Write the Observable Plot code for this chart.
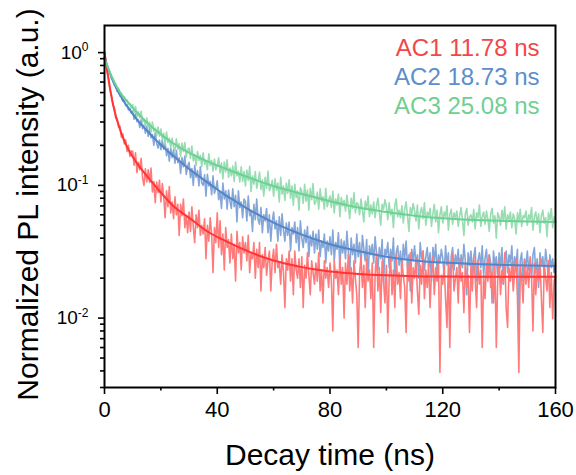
<!DOCTYPE html>
<html><head><meta charset="utf-8">
<script src="https://cdn.jsdelivr.net/npm/d3@7"></script>
<script src="https://cdn.jsdelivr.net/npm/@observablehq/plot@0.6"></script>
<style>body{margin:0;background:#fff;} svg{display:block;}</style>
</head><body><div id="chart"></div>
<script>
// TCSPC channel spacing (ns)
const timeStep = 0.5;
const seriesNames = ["AC1", "AC2", "AC3"];
const lifetimes = ["11.78 ns", "18.73 ns", "25.08 ns"];
const xLabel = "Decay time (ns)";
const yLabel = "Normalized PL intensity (a.u.)";

// measured (noisy) decays, one value per channel from 0 to 160 ns
const ac1Decay = [
1.02,.86,.71,.63,.52,.47,.40,.385,.32,.315,
.275,.28,.23,.245,.205,.22,.18,.20,.165,.182,
.180,.142,.176,.125,.149,.131,.160,.114,.100,.133,
.106,.131,.105,.135,.089,.107,.074,.106,.088,.109,
.075,.103,.083,.057,.091,.069,.098,.062,.075,.056,
.082,.060,.072,.042,.072,.059,.079,.048,.059,.044,
.063,.045,.069,.049,.037,.060,.048,.065,.042,.050,
.043,.056,.028,.050,.038,.057,.043,.022,.048,.037,
.062,.034,.054,.030,.043,.023,.048,.034,.039,.026,
.043,.028,.036,.019,.045,.031,.037,.023,.041,.031,
.037,.027,.042,.022,.031,.028,.037,.020,.033,.024,
.037,.016,.030,.024,.034,.021,.027,.032,.016,.027,
.033,.022,.036,.024,.026,.018,.030,.022,.012,.028,
.023,.032,.019,.028,.015,.032,.023,.020,.028,.017,
.029,.012,.025,.020,.031,.021,.015,.027,.022,.018,
.026,.019,.031,.016,.023,.013,.027,.020,.024,.017,
.026,.019,.008,.027,.020,.023,.015,.029,.018,.024,
.010,.026,.018,.030,.016,.024,.013,.027,.020,.015,
.006,.022,.029,.017,.025,.012,.028,.019,.023,.014,
.026,.006,.021,.031,.016,.024,.011,.027,.019,.013,
.025,.0078,.020,.029,.015,.023,.012,.030,.018,.022,
.014,.027,.021,.017,.0078,.026,.019,.031,.013,.024,
.020,.028,.016,.0107,.025,.018,.032,.014,.023,.017,
.026,.012,.022,.029,.015,.024,.019,.027,.0039,.021,
.018,.025,.014,.0085,.027,.006,.023,.030,.016,.020,
.024,.013,.028,.019,.022,.011,.026,.017,.021,.0078,
.025,.016,.029,.020,.012,.027,.018,.023,.006,.021,
.014,.026,.019,.030,.017,.022,.013,.025,.006,.020,
.027,.015,.023,.018,.031,.012,.0085,.024,.019,.026,
.016,.022,.028,.014,.0039,.025,.020,.013,.027,.018,
.024,.017,.029,.021,.008,.026,.015,.023,.019,.028,
.014,.0078,.025,.020,.016,.027,.012,.022,.0099,.019,
.021
];
const ac2Decay = [
.93,.84,.80,.73,.70,.64,.62,.57,.56,.51,
.51,.47,.47,.43,.435,.40,.405,.37,.38,.35,
.362,.315,.348,.302,.311,.273,.312,.267,.284,.247,
.280,.234,.271,.228,.241,.201,.249,.208,.191,.219,
.186,.218,.187,.214,.167,.190,.152,.190,.162,.186,
.147,.183,.148,.161,.123,.162,.138,.166,.121,.139,
.149,.114,.134,.100,.141,.115,.129,.099,.138,.104,
.100,.120,.083,.121,.099,.107,.085,.118,.087,.095,
.108,.078,.090,.067,.104,.079,.091,.066,.092,.076,
.067,.094,.069,.084,.053,.091,.068,.075,.057,.079,
.075,.054,.083,.059,.065,.045,.072,.055,.079,.055,
.051,.068,.044,.060,.054,.067,.044,.060,.038,.053,
.063,.047,.054,.038,.058,.042,.061,.046,.038,.052,
.042,.053,.032,.048,.043,.053,.037,.048,.032,.054,
.040,.034,.046,.037,.049,.029,.042,.035,.045,.031,
.043,.033,.046,.029,.038,.034,.043,.026,.038,.032,
.041,.030,.046,.027,.037,.033,.044,.024,.039,.031,
.038,.028,.045,.032,.022,.040,.030,.036,.026,.043,
.029,.037,.025,.042,.033,.027,.039,.020,.035,.030,
.036,.026,.041,.031,.023,.034,.028,.039,.018,.033,
.030,.037,.024,.033,.027,.040,.021,.031,.035,.025,
.032,.022,.036,.028,.038,.024,.030,.016,.033,.027,
.035,.025,.030,.020,.037,.028,.032,.023,.029,.034,
.024,.031,.019,.034,.027,.036,.022,.030,.026,.033,
.028,.021,.035,.025,.031,.017,.029,.034,.023,.030,
.026,.033,.020,.030,.024,.036,.027,.015,.031,.025,
.032,.022,.029,.034,.019,.027,.031,.024,.035,.021,
.028,.033,.023,.030,.026,.013,.032,.025,.029,.020,
.031,.024,.034,.018,.028,.032,.022,.030,.026,.035,
.021,.029,.025,.033,.0095,.027,.031,.019,.028,.024,
.032,.023,.027,.020,.030,.034,.022,.028,.017,.031,
.025,.029,.021,.033,.026,.019,.030,.024,.028,.022,
.026
];
const ac3Decay = [
.90,.83,.80,.74,.71,.66,.64,.59,.58,.54,
.535,.50,.495,.46,.465,.435,.44,.41,.415,.385,
.406,.355,.393,.329,.359,.323,.361,.301,.318,.281,
.322,.274,.299,.251,.300,.256,.270,.236,.275,.235,
.266,.221,.247,.202,.252,.210,.226,.192,.227,.194,
.183,.224,.187,.206,.165,.208,.180,.210,.163,.186,
.191,.160,.198,.153,.171,.141,.180,.154,.168,.139,
.176,.144,.153,.131,.173,.141,.154,.128,.158,.131,
.141,.161,.124,.148,.112,.150,.126,.156,.115,.135,
.118,.140,.107,.150,.118,.128,.106,.138,.107,.127,
.099,.130,.109,.139,.090,.118,.102,.127,.095,.108,
.126,.093,.110,.083,.115,.095,.128,.091,.097,.109,
.083,.112,.092,.104,.075,.115,.086,.099,.077,.104,
.087,.110,.080,.099,.071,.102,.081,.091,.065,.096,
.090,.073,.102,.076,.092,.065,.095,.078,.103,.072,
.075,.089,.066,.094,.076,.082,.066,.095,.069,.077,
.083,.068,.090,.062,.079,.071,.086,.058,.081,.070,
.077,.064,.084,.069,.056,.080,.067,.088,.062,.074,
.072,.060,.079,.065,.053,.076,.066,.083,.058,.071,
.061,.075,.057,.070,.080,.063,.050,.072,.066,.078,
.069,.055,.074,.060,.066,.048,.071,.079,.058,.065,
.057,.070,.052,.066,.075,.059,.045,.068,.061,.073,
.064,.054,.071,.047,.062,.068,.056,.074,.050,.063,
.059,.067,.049,.061,.072,.053,.065,.044,.060,.069,
.052,.063,.058,.070,.046,.060,.066,.051,.062,.057,
.064,.049,.059,.068,.055,.042,.061,.067,.050,.058,
.060,.053,.066,.047,.062,.057,.071,.049,.058,.063,
.051,.064,.056,.045,.061,.067,.052,.059,.040,.062,
.058,.050,.065,.054,.069,.047,.060,.055,.063,.048,
.061,.056,.043,.062,.053,.066,.049,.059,.057,.064,
.050,.060,.055,.068,.046,.058,.063,.051,.061,.044,
.059,.065,.052,.057,.041,.062,.055,.067,.048,.058,
.054
];

// fitted curves
const fitTimes = [0,1,2,3,4,5,6,7,8,9,10,12,14,16,18,20,22,25,28,31,34,38,42,46,50,54,58,62,66,70,75,80,90,100,110,120,140,160];
const fitAC1 = [1.0,.72,.53,.41,.335,.285,.245,.217,.195,.178,.164,.142,.125,.111,.099,.088,.079,.068,.061,.055,.049,.043,.039,.0355,.0325,.030,.028,.0265,.0252,.0242,.0232,.0224,.0215,.021,.0207,.0206,.0205,.0205];
const fitAC2 = [.92,.79,.69,.61,.55,.50,.46,.425,.395,.37,.345,.305,.273,.246,.222,.202,.185,.163,.144,.128,.115,.100,.087,.077,.068,.061,.055,.050,.046,.0425,.039,.036,.032,.029,.0272,.0262,.0252,.0247];
const fitAC3 = [.90,.79,.70,.63,.57,.525,.485,.455,.43,.405,.383,.345,.312,.285,.262,.242,.225,.203,.186,.172,.160,.147,.136,.126,.117,.109,.102,.096,.091,.086,.081,.076,.068,.063,.059,.0565,.054,.053];

const xMajorTicks = [0, 40, 80, 120, 160];
const xMinorTicks = [20, 60, 100, 140];
const yMajorTicks = [1, 0.1, 0.01];
const yMinorTicks = [0.003,0.004,0.005,0.006,0.007,0.008,0.009,0.02,0.03,0.04,0.05,0.06,0.07,0.08,0.09,0.2,0.3,0.4,0.5,0.6,0.7,0.8,0.9];

const noiseColors = ["#ff7b7b", "#84a6d8", "#98dcb2"];
const fitColors = ["#ff3535", "#5385c9", "#6bd293"];
const labelColors = ["#f04848", "#5d8ecb", "#6fcf93"];

const toRows = arr => arr.map((v, i) => ({t: i * timeStep, v}));
const fitRows = arr => arr.map((v, i) => ({t: fitTimes[i], v}));
const decays = [ac1Decay, ac2Decay, ac3Decay];
const fits = [fitAC1, fitAC2, fitAC3];
const drawOrder = [1, 2, 0];

const plot = Plot.plot({
  width: 576, height: 475,
  marginLeft: 104, marginRight: 21, marginTop: 25, marginBottom: 88,
  style: {fontFamily: "'Liberation Sans', Arial, sans-serif", background: "white", color: "black"},
  x: {domain: [0, 160]},
  y: {type: "log", domain: [0.003, 1.6]},
  marks: [
    ...drawOrder.map(k => Plot.line(toRows(decays[k]), {x: "t", y: "v", stroke: noiseColors[k], strokeWidth: 1.6})),
    ...[0, 1, 2].map(k => Plot.line(fitRows(fits[k]), {x: "t", y: "v", stroke: fitColors[k], strokeWidth: 2, curve: "catmull-rom"})),
    Plot.axisX({ticks: xMajorTicks, tickSize: 7, tickPadding: 7, fontSize: 22, strokeWidth: 1.6, label: null, tickFormat: d => String(d)}),
    Plot.axisX({ticks: xMinorTicks, tickSize: 3.5, strokeWidth: 1.6, label: null, tickFormat: () => ""}),
    Plot.axisY({ticks: yMajorTicks, tickSize: 6, tickPadding: 10, fontSize: 19, strokeWidth: 1.6, label: null, tickFormat: d => "10^" + Math.round(Math.log10(d))}),
    Plot.axisY({ticks: yMinorTicks, tickSize: 4, strokeWidth: 1.6, label: null, tickFormat: () => ""}),
    Plot.frame({stroke: "black", strokeWidth: 2}),
    Plot.text([xLabel], {text: d => d, frameAnchor: "bottom", textAnchor: "middle", lineAnchor: "bottom", dy: 77, fontSize: 30}),
    Plot.text([yLabel], {text: d => d, frameAnchor: "left", textAnchor: "middle", rotate: -90, lineAnchor: "bottom", dx: -67, dy: -2, fontSize: 30}),
    ...[0, 1, 2].map(k => Plot.text([`${seriesNames[k]} ${lifetimes[k]}`], {text: d => d, frameAnchor: "top-right", textAnchor: "end", lineAnchor: "bottom", dx: -16, dy: 30 + k * 29, fill: labelColors[k], fontSize: 24}))
  ]
});

// render exponents as superscripts
plot.querySelectorAll('g[aria-label="y-axis tick label"] text').forEach(t => {
  const s = t.textContent;
  if (!s.includes("^")) return;
  const [base, exp] = s.split("^");
  t.textContent = base;
  const ts = document.createElementNS("http://www.w3.org/2000/svg", "tspan");
  ts.setAttribute("dy", "-7.5");
  ts.setAttribute("font-size", "12");
  ts.textContent = exp;
  t.appendChild(ts);
});

document.getElementById("chart").appendChild(plot);
</script>
</body></html>
